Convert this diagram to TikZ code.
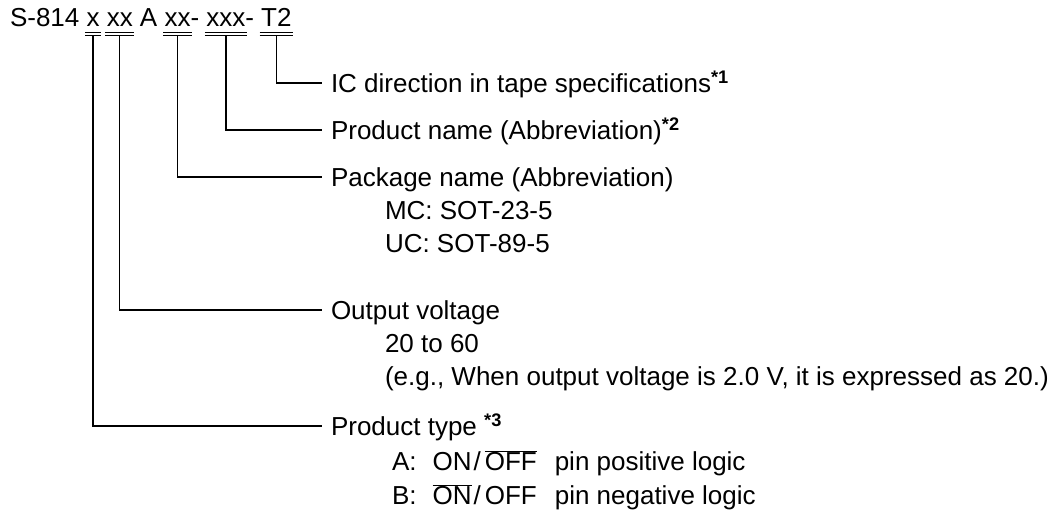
\documentclass[tikz,border=0pt]{standalone}
\usepackage{fontspec}
\setmainfont{Liberation Sans}
\usetikzlibrary{calc}
\newcommand{\ovl}[1]{$\overline{\mbox{#1}}$}
\newcommand{\fn}[1]{\textsuperscript{\bfseries #1}}
\begin{document}
\begin{tikzpicture}[x=1pt,y=-1pt,
  txt/.style={inner sep=0pt,outer sep=0pt,anchor=west,text height=18.6pt,text depth=0pt,font=\fontsize{26}{30}\selectfont},
  ttl/.style={inner sep=0pt,outer sep=0pt,anchor=base west,font=\fontsize{26}{30}\selectfont},
  ln/.style={line width=1.3pt,black},
  ul/.style={line width=1.3pt,black}]
\useasboundingbox (0,0) rectangle (1060,522);
% title pieces
\node[ttl] (p0) at (10,27) {S-814};
\node[ttl] (p1) at ([xshift=7.2pt]p0.base east) {x};
\node[ttl] (p2) at ([xshift=7.2pt]p1.base east) {xx};
\node[ttl] (p3) at ([xshift=7.2pt]p2.base east) {A};
\node[ttl] (p4) at ([xshift=7.2pt]p3.base east) {xx};
\node[ttl] (p4h) at (p4.base east) {-};
\node[ttl] (p5) at ([xshift=7.2pt]p4h.base east) {xxx};
\node[ttl] (p5h) at (p5.base east) {-};
\node[ttl] (p6) at ([xshift=7.2pt]p5h.base east) {T2};
% double underlines
\foreach \p in {p1,p2,p4,p5,p6}{
  \draw[ul] ([xshift=-1.5pt]\p.base west) ++(0,5.2) coordinate (\p a) -- ([xshift=1.5pt]\p.base east |- \p a);
  \draw[ul] ([xshift=-1.5pt]\p.base west) ++(0,8.8) coordinate (\p b) -- ([xshift=1.5pt]\p.base east |- \p b);
  \coordinate (\p s) at ($(\p.base west)!0.5!(\p.base east)+(0,8.8)$);
}
% labels
\node[txt] (t6) at (331,83) {IC direction in tape specifications\fn{*1}};
\node[txt] (t5) at (331,130) {Product name (Abbreviation)\fn{*2}};
\node[txt] (t4) at (331,177) {Package name (Abbreviation)};
\node[txt] (t4a) at (385,210) {MC: SOT-23-5};
\node[txt] (t4b) at (385,243) {UC: SOT-89-5};
\node[txt] (t2) at (331,310) {Output voltage};
\node[txt] (t2a) at (385,343) {20 to 60};
\node[txt] (t2b) at (385,376) {(e.g., When output voltage is 2.0 V, it is expressed as 20.)};
\node[txt] (t1) at (331,426) {Product type \fn{*3}};
\node[txt] (t1a) at (392,461) {A:\hspace{16pt}ON\hspace{2pt}/\hspace{4pt}\ovl{OFF}\hspace{18pt}pin positive logic};
\node[txt] (t1b) at (392,495) {B:\hspace{16pt}\ovl{ON}\hspace{2pt}/\hspace{4pt}OFF\hspace{18pt}pin negative logic};
% connectors
\draw[ln] (p6s) |- ([xshift=-9pt]t6.west);
\draw[ln] (p5s) |- ([xshift=-9pt]t5.west);
\draw[ln] (p4s) |- ([xshift=-9pt]t4.west);
\draw[ln] (p2s) |- ([xshift=-9pt]t2.west);
\draw[ln] (p1s) |- ([xshift=-9pt]t1.west);
\end{tikzpicture}
\end{document}
